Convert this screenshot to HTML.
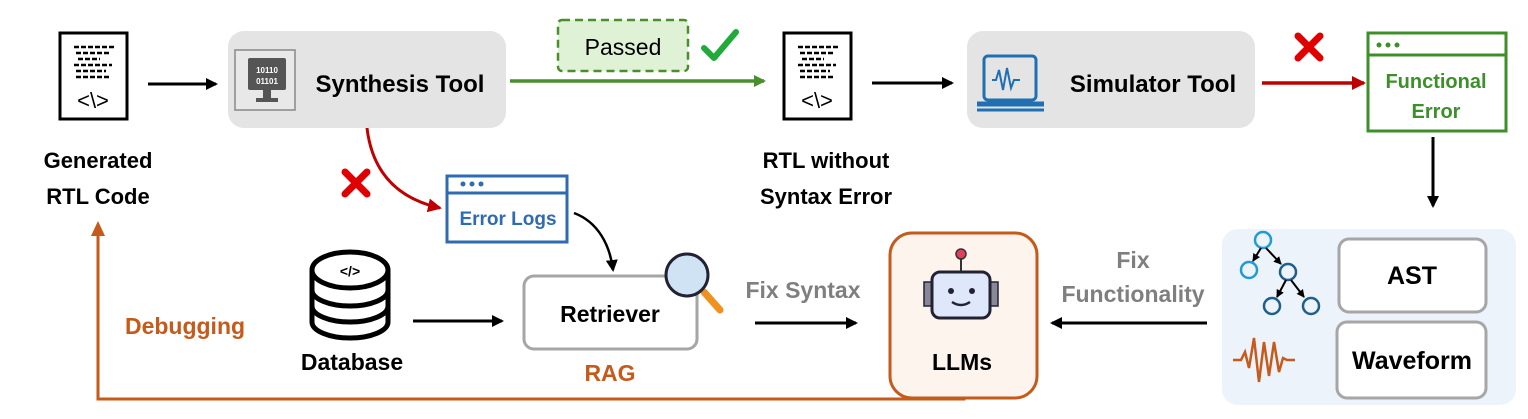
<!DOCTYPE html>
<html><head><style>
body{margin:0;background:#fff}
svg text{font-family:"Liberation Sans",sans-serif;font-weight:bold}
</style></head><body>
<svg width="1528" height="414" viewBox="0 0 1528 414" xmlns="http://www.w3.org/2000/svg">
<defs>
<marker id="ak" markerWidth="12" markerHeight="12" refX="10" refY="6" orient="auto" markerUnits="userSpaceOnUse"><path d="M0,0 L12,6 L0,12 Z" fill="#000"/></marker>
<marker id="as" markerWidth="8" markerHeight="8" refX="7" refY="4" orient="auto" markerUnits="userSpaceOnUse"><path d="M0,0 L8,4 L0,8 Z" fill="#000"/></marker>
<marker id="ag" markerWidth="12" markerHeight="12" refX="10" refY="6" orient="auto" markerUnits="userSpaceOnUse"><path d="M0,0 L12,6 L0,12 Z" fill="#4a8f2e"/></marker>
<marker id="ar" markerWidth="14" markerHeight="14" refX="12" refY="7" orient="auto" markerUnits="userSpaceOnUse"><path d="M0,0 L14,7 L0,14 Z" fill="#c00000"/></marker>
<g id="doc">
<rect x="0" y="0" width="67" height="86" fill="#fff" stroke="#000" stroke-width="3"/>
<g stroke="#000" stroke-width="2.5" stroke-dasharray="5,2">
<line x1="14" y1="14" x2="54" y2="14"/><line x1="16" y1="20" x2="50" y2="20"/><line x1="18" y1="26" x2="40" y2="26"/><line x1="14" y1="32" x2="52" y2="32"/><line x1="16" y1="38" x2="46" y2="38"/><line x1="16" y1="44" x2="50" y2="44"/></g>
<text x="33" y="75" font-size="22" text-anchor="middle" style="font-weight:normal">&lt;\&gt;</text>
</g>
<g id="xr"><path d="M0,0 L22,22 M22,0 L0,22" stroke="#e00000" stroke-width="7" stroke-linecap="round"/></g>
</defs>

<use href="#doc" x="60" y="33"/>
<text x="98" y="168" font-size="22" text-anchor="middle">Generated</text>
<text x="98" y="204" font-size="22" text-anchor="middle">RTL Code</text>
<line x1="148" y1="84" x2="216" y2="84" stroke="#000" stroke-width="3" marker-end="url(#ak)"/>

<rect x="228" y="31" width="278" height="97" rx="16" fill="#e4e4e4"/>
<rect x="235" y="50" width="60" height="60" fill="#e8e8e8" stroke="#888" stroke-width="1.5"/>
<rect x="248" y="58" width="38" height="32" rx="2" fill="#555"/>
<text x="267" y="73" font-size="8" fill="#fff" text-anchor="middle">10110</text>
<text x="267" y="84" font-size="8" fill="#fff" text-anchor="middle">01101</text>
<rect x="263" y="90" width="8" height="8" fill="#555"/>
<rect x="256" y="98" width="22" height="4" fill="#555"/>
<text x="400" y="92" font-size="24" text-anchor="middle">Synthesis Tool</text>

<rect x="558" y="20" width="130" height="51" rx="4" fill="#dff2d6" stroke="#4a8f2e" stroke-width="2.5" stroke-dasharray="8,5"/>
<text x="623" y="55" font-size="23" text-anchor="middle" style="font-weight:normal">Passed</text>
<path d="M704,48 L714,58 L736,32" fill="none" stroke="#1faa3a" stroke-width="6" stroke-linecap="round" stroke-linejoin="round"/>
<line x1="510" y1="81" x2="764" y2="81" stroke="#4a8f2e" stroke-width="3.5" marker-end="url(#ag)"/>

<use href="#doc" x="784" y="33"/>
<text x="826" y="168" font-size="22" text-anchor="middle">RTL without</text>
<text x="826" y="204" font-size="22" text-anchor="middle">Syntax Error</text>
<line x1="872" y1="83" x2="952" y2="83" stroke="#000" stroke-width="3" marker-end="url(#ak)"/>

<rect x="967" y="31" width="288" height="97" rx="16" fill="#e4e4e4"/>
<rect x="984" y="56" width="52" height="44" rx="4" fill="none" stroke="#1f6fb2" stroke-width="3"/>
<line x1="977" y1="104" x2="1044" y2="104" stroke="#1f6fb2" stroke-width="5"/>
<line x1="977" y1="110" x2="1044" y2="110" stroke="#1f6fb2" stroke-width="3"/>
<path d="M992,80 l4,0 l3,-10 l4,20 l4,-22 l4,20 l3,-8 l6,0" fill="none" stroke="#1f6fb2" stroke-width="2"/>
<text x="1153" y="92" font-size="24" text-anchor="middle">Simulator Tool</text>

<line x1="1262" y1="83" x2="1364" y2="83" stroke="#c00000" stroke-width="3.5" marker-end="url(#ar)"/>
<use href="#xr" x="1298" y="36"/>

<rect x="1368" y="33" width="138" height="98" fill="#fff" stroke="#3d8f2a" stroke-width="3"/>
<line x1="1368" y1="55" x2="1506" y2="55" stroke="#3d8f2a" stroke-width="3"/>
<circle cx="1379" cy="45" r="2.5" fill="#3d8f2a"/><circle cx="1388" cy="45" r="2.5" fill="#3d8f2a"/><circle cx="1397" cy="45" r="2.5" fill="#3d8f2a"/>
<text x="1436" y="88" font-size="20" fill="#3d8f2a" text-anchor="middle">Functional</text>
<text x="1436" y="118" font-size="20" fill="#3d8f2a" text-anchor="middle">Error</text>
<line x1="1433" y1="137" x2="1433" y2="206" stroke="#000" stroke-width="3" marker-end="url(#ak)"/>

<path d="M367,128 C372,170 395,198 440,208" fill="none" stroke="#c00000" stroke-width="3" marker-end="url(#ar)"/>
<use href="#xr" x="345" y="172"/>
<rect x="447" y="176" width="120" height="66" fill="#fff" stroke="#2e6bb0" stroke-width="3"/>
<line x1="447" y1="193" x2="567" y2="193" stroke="#2e6bb0" stroke-width="3"/>
<circle cx="463" cy="184" r="2.5" fill="#2e6bb0"/><circle cx="472" cy="184" r="2.5" fill="#2e6bb0"/><circle cx="481" cy="184" r="2.5" fill="#2e6bb0"/>
<text x="508" y="225" font-size="19" fill="#2e6bb0" text-anchor="middle">Error Logs</text>
<path d="M574,213 C598,222 610,245 613,270" fill="none" stroke="#000" stroke-width="2.5" marker-end="url(#ak)"/>

<ellipse cx="350" cy="270" rx="38" ry="18" fill="none" stroke="#000" stroke-width="5"/>
<path d="M312,270 V322 A38,16 0 0 0 388,322 V270" fill="none" stroke="#000" stroke-width="5"/>
<path d="M312,290 A38,16 0 0 0 388,290" fill="none" stroke="#000" stroke-width="5"/>
<path d="M312,306 A38,16 0 0 0 388,306" fill="none" stroke="#000" stroke-width="5"/>
<text x="350" y="276" font-size="14" text-anchor="middle">&lt;/&gt;</text>
<text x="352" y="370" font-size="23" text-anchor="middle">Database</text>
<line x1="413" y1="321" x2="502" y2="321" stroke="#000" stroke-width="3" marker-end="url(#ak)"/>

<rect x="524" y="276" width="173" height="73" rx="10" fill="#fff" stroke="#a6a6a6" stroke-width="3"/>
<text x="610" y="322" font-size="23" text-anchor="middle">Retriever</text>
<text x="610" y="381" font-size="23" fill="#c55a1a" text-anchor="middle">RAG</text>
<line x1="704" y1="292" x2="720" y2="310" stroke="#f0901e" stroke-width="7" stroke-linecap="round"/>
<circle cx="687" cy="275" r="21" fill="#cfe3f5" stroke="#223" stroke-width="3"/>

<text x="803" y="298" font-size="23" fill="#7f7f7f" text-anchor="middle">Fix Syntax</text>
<line x1="755" y1="323" x2="856" y2="323" stroke="#000" stroke-width="3" marker-end="url(#ak)"/>

<rect x="890" y="233" width="147" height="165" rx="22" fill="#fdf4ee" stroke="#c55a1a" stroke-width="3"/>
<line x1="961" y1="256" x2="961" y2="272" stroke="#333" stroke-width="2"/>
<circle cx="961" cy="254" r="5" fill="#e0405a" stroke="#333" stroke-width="1.5"/>
<rect x="924" y="282" width="9" height="24" fill="#889" stroke="#223" stroke-width="1.5"/>
<rect x="989" y="282" width="9" height="24" fill="#889" stroke="#223" stroke-width="1.5"/>
<rect x="932" y="272" width="58" height="46" rx="8" fill="#dfe8fb" stroke="#223" stroke-width="3"/>
<circle cx="951" cy="291" r="3" fill="#223"/><circle cx="972" cy="291" r="3" fill="#223"/>
<path d="M952,302 Q961,308 970,302" fill="none" stroke="#223" stroke-width="2.5"/>
<text x="962" y="370" font-size="23" text-anchor="middle">LLMs</text>

<text x="1133" y="268" font-size="23" fill="#7f7f7f" text-anchor="middle">Fix</text>
<text x="1133" y="302" font-size="23" fill="#7f7f7f" text-anchor="middle">Functionality</text>
<line x1="1207" y1="323" x2="1052" y2="323" stroke="#000" stroke-width="3" marker-end="url(#ak)"/>

<rect x="1222" y="229" width="294" height="176" rx="16" fill="#edf3fb"/>
<circle cx="1263" cy="240" r="8" fill="none" stroke="#1f9bd6" stroke-width="2.5"/>
<circle cx="1249" cy="270" r="8" fill="none" stroke="#1f9bd6" stroke-width="2.5"/>
<circle cx="1288" cy="272" r="8" fill="none" stroke="#1f5f8a" stroke-width="2.5"/>
<circle cx="1272" cy="306" r="8" fill="none" stroke="#1f5f8a" stroke-width="2.5"/>
<circle cx="1311" cy="306" r="8" fill="none" stroke="#1f5f8a" stroke-width="2.5"/>
<g stroke="#000" stroke-width="2">
<line x1="1261" y1="248" x2="1253" y2="261" marker-end="url(#as)"/>
<line x1="1266" y1="248" x2="1281" y2="264" marker-end="url(#as)"/>
<line x1="1286" y1="280" x2="1277" y2="297" marker-end="url(#as)"/>
<line x1="1291" y1="280" x2="1304" y2="297" marker-end="url(#as)"/>
</g>
<path d="M1233,360 h8 l4,-8 l4,16 l5,-30 l5,44 l5,-40 l5,34 l5,-34 l5,30 l4,-14 l4,2 h8" fill="none" stroke="#c55a1a" stroke-width="2.5"/>
<rect x="1339" y="239" width="147" height="73" rx="10" fill="#fff" stroke="#a6a6a6" stroke-width="3"/>
<text x="1412" y="284" font-size="25" text-anchor="middle">AST</text>
<rect x="1337" y="322" width="149" height="76" rx="10" fill="#fff" stroke="#a6a6a6" stroke-width="3"/>
<text x="1412" y="369" font-size="25" text-anchor="middle">Waveform</text>

<path d="M964,398 V399 H98 V232" fill="none" stroke="#c55a1a" stroke-width="3"/>
<path d="M91,236 L98,221 L105,236 Z" fill="#c55a1a"/>
<text x="185" y="334" font-size="23" fill="#c55a1a" text-anchor="middle">Debugging</text>
</svg>
</body></html>
